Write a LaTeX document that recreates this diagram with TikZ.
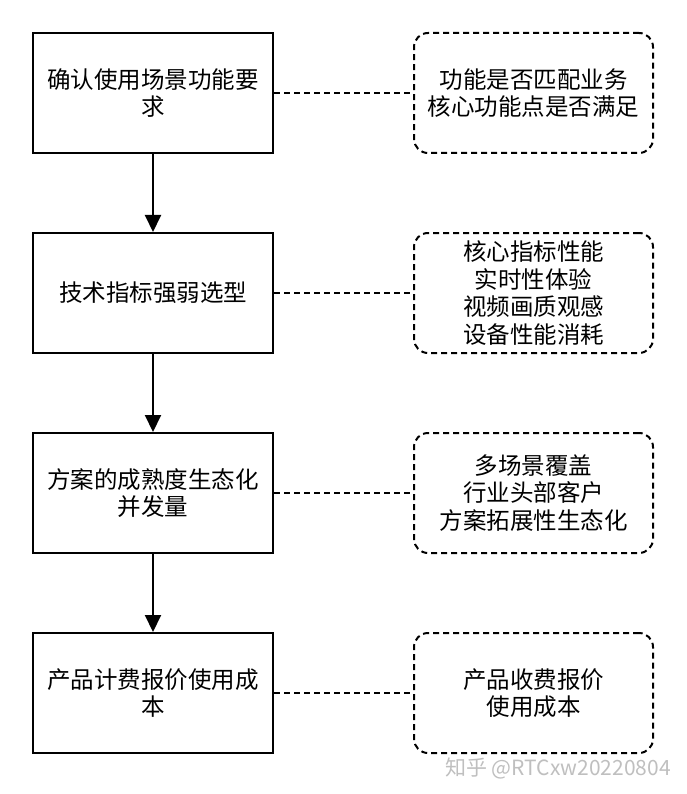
\documentclass[tikz,border=0pt]{standalone}
\usepackage{fontspec}
\setmainfont{Noto Sans CJK SC}
\usetikzlibrary{arrows.meta}
\tikzset{
  every node/.style={font=\fontsize{23.5pt}{27.6pt}\selectfont, align=center},
  stepbox/.style={draw, line width=2pt, minimum width=240pt, minimum height=120pt, inner sep=0pt},
  notebox/.style={draw, dashed, dash pattern=on 6pt off 4pt, line width=2pt, rounded corners=14pt, minimum width=239pt, minimum height=120pt, inner sep=0pt},
  flow/.style={line width=2pt, -{Triangle[length=17pt,width=16pt]}},
  link/.style={line width=2pt, dash pattern=on 6pt off 4pt}
}
\begin{document}
\begin{tikzpicture}[x=1pt,y=-1pt]
\useasboundingbox (0,0) rectangle (686,794);
\node[stepbox] (s1) at (153,93) {确认使用场景功能要\\求};
\node[stepbox] (s2) at (153,293) {技术指标强弱选型};
\node[stepbox] (s3) at (153,493) {方案的成熟度生态化\\并发量};
\node[stepbox] (s4) at (153,693) {产品计费报价使用成\\本};
\node[notebox] (n1) at (533.5,93) {功能是否匹配业务\\核心功能点是否满足};
\node[notebox] (n2) at (533.5,293) {核心指标性能\\实时性体验\\视频画质观感\\设备性能消耗};
\node[notebox] (n3) at (533.5,493) {多场景覆盖\\行业头部客户\\方案拓展性生态化};
\node[notebox] (n4) at (533.5,693) {产品收费报价\\使用成本};
\draw[flow] (s1) -- (s2);
\draw[flow] (s2) -- (s3);
\draw[flow] (s3) -- (s4);
\draw[link] (s1) -- (n1);
\draw[link] (s2) -- (n2);
\draw[link] (s3) -- (n3);
\draw[link] (s4) -- (n4);
\node[font=\fontsize{21pt}{24pt}\selectfont, text=black!25, anchor=east, inner sep=0pt] (wm) at (671,768) {知乎 @RTCxw20220804};
\end{tikzpicture}
\end{document}
